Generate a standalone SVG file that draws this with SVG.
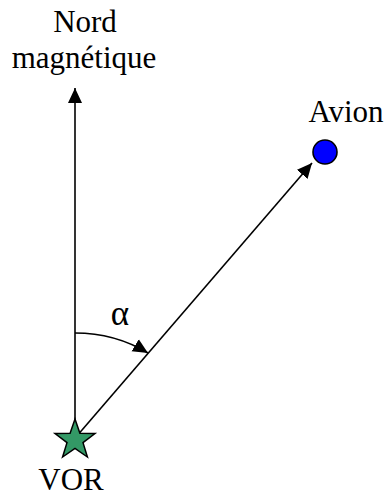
<svg xmlns="http://www.w3.org/2000/svg" width="387" height="497" viewBox="0 0 387 497">
<style>
.t{font-family:'Liberation Serif','Times New Roman',serif;font-size:31px;fill:#000;text-anchor:middle}
.ln{stroke:#000;stroke-width:1.6;fill:none}
</style>
<defs>
<marker id="ah" markerUnits="userSpaceOnUse" markerWidth="16" markerHeight="16" viewBox="0 0 16 16" refX="15" refY="8" orient="auto">
<path d="M0,1 L15,8 L0,15 Z" fill="#000"/>
</marker>
</defs>
<rect width="387" height="497" fill="#fff"/>
<g id="connectors">
<line class="ln" x1="75" y1="440" x2="75" y2="88" marker-end="url(#ah)"/>
<line class="ln" x1="76" y1="437" x2="312" y2="163" marker-end="url(#ah)"/>
<path class="ln" d="M75,333 Q115,333 148,353" marker-end="url(#ah)"/>
</g>
<g id="nord">
<text class="t" x="85" y="32">Nord</text>
<text class="t" x="84" y="68">magnétique</text>
</g>
<g id="avion">
<circle cx="325" cy="152" r="12" fill="#0000ff" stroke="#000" stroke-width="1.6"/>
<text class="t" x="346" y="122">Avion</text>
</g>
<g id="vor">
<polygon points="75,419 79.9,433.3 95,433.5 83,442.6 87.4,457 75,448.3 62.6,457 67,442.6 55,433.5 70.1,433.3" fill="#339966" stroke="#000" stroke-width="1.5"/>
<text class="t" x="71" y="490">VOR</text>
</g>
<g id="alpha">
<text class="t" x="120" y="325" font-size="35" style="font-size:35px">α</text>
</g>
</svg>
